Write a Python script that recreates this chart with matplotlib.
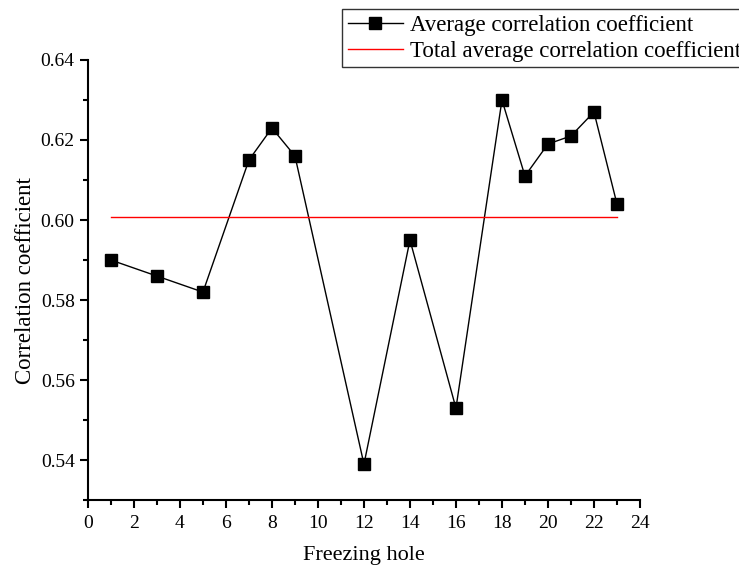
import numpy as np
import matplotlib.pyplot as plt
from matplotlib.ticker import MultipleLocator

plt.rcParams['font.family'] = ['Liberation Serif', 'DejaVu Serif']

# data
holes = [1, 3, 5, 7, 8, 9, 12, 14, 16, 18, 19, 20, 21, 22, 23]
corr = [0.590, 0.586, 0.582, 0.615, 0.623, 0.616, 0.539, 0.595,
        0.553, 0.630, 0.611, 0.619, 0.621, 0.627, 0.604]
total_avg = 0.6007
avg_span = [1, 23]

fig = plt.figure(figsize=(7.39, 5.71), dpi=100)
ax = fig.add_axes([0.119, 0.124, 0.747, 0.771])

ax.plot(holes, corr, color='black', lw=1, marker='s', ms=9,
        mfc='black', mec='black', label='Average correlation coefficient')
ax.plot(avg_span, [total_avg, total_avg], color='red', lw=1,
        label='Total average correlation coefficient')

ax.set_xlim(0, 24)
ax.set_ylim(0.53, 0.64)
ax.xaxis.set_major_locator(MultipleLocator(2))
ax.xaxis.set_minor_locator(MultipleLocator(1))
ax.set_yticks([0.54, 0.56, 0.58, 0.60, 0.62, 0.64])
ax.yaxis.set_minor_locator(MultipleLocator(0.01))
ax.yaxis.set_major_formatter(plt.FuncFormatter(lambda v, p: f'{v:.2f}'))

for s in ['top', 'right']:
    ax.spines[s].set_visible(False)
for s in ['left', 'bottom']:
    ax.spines[s].set_linewidth(1.5)

ax.tick_params(which='major', direction='out', length=6, width=1.5, labelsize=14)
ax.tick_params(which='minor', direction='out', length=3.5, width=1.5)
ax.tick_params(axis='x', pad=5)

ax.set_xlabel('Freezing hole', fontsize=16, labelpad=10)
ax.set_ylabel('Correlation coefficient', fontsize=16.5, labelpad=3)

leg = fig.legend(loc='upper left', bbox_to_anchor=(0.463, 0.984), fontsize=16.5,
                 frameon=True, fancybox=False, edgecolor='black',
                 handlelength=2.4, borderpad=0.25, labelspacing=0.2,
                 handletextpad=0.3, borderaxespad=0)
leg.get_frame().set_linewidth(1)

fig.savefig('out.png', dpi=100)
